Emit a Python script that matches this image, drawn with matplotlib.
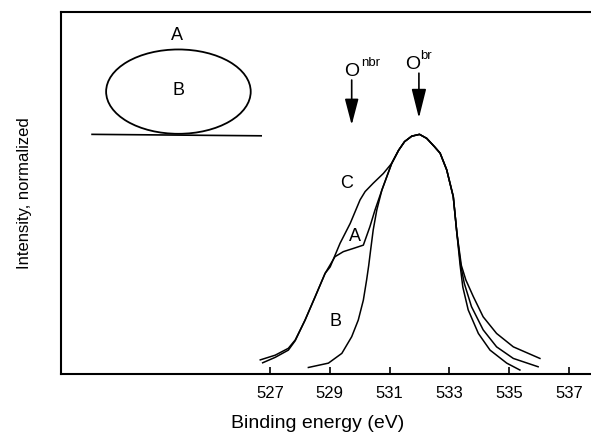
import matplotlib
matplotlib.use("Agg")
import matplotlib.pyplot as plt
from matplotlib.patches import Ellipse

plt.rcParams['font.family'] = ['Liberation Sans', 'DejaVu Sans']

# Binding energy (eV) and normalized intensity for the three spectra
energy_C = [526.67, 527.17, 527.61, 527.84, 528.17, 528.51, 528.84, 529.01, 529.34, 529.68,
            530.01, 530.18, 530.45, 530.79, 531.07, 531.30, 531.50, 531.74, 532.00, 532.24,
            532.50, 532.69, 532.91, 533.13, 533.25, 533.40, 533.55, 533.80, 534.13, 534.58,
            535.14, 536.03]
intensity_C = [0.039, 0.052, 0.071, 0.094, 0.149, 0.214, 0.278, 0.296, 0.361, 0.416,
               0.481, 0.504, 0.527, 0.554, 0.582, 0.618, 0.642, 0.657, 0.662, 0.651,
               0.628, 0.610, 0.564, 0.490, 0.390, 0.300, 0.260, 0.214, 0.158, 0.112,
               0.075, 0.043]

energy_A = [526.75, 527.17, 527.61, 527.84, 528.17, 528.51, 528.84, 529.17, 529.45, 529.79,
            530.12, 530.34, 530.51, 530.74, 531.07, 531.30, 531.50, 531.74, 532.00, 532.24,
            532.50, 532.69, 532.91, 533.13, 533.25, 533.38, 533.50, 533.74, 534.13, 534.58,
            535.14, 535.97]
intensity_A = [0.031, 0.046, 0.066, 0.092, 0.149, 0.214, 0.278, 0.324, 0.338, 0.347,
               0.356, 0.407, 0.453, 0.508, 0.582, 0.618, 0.642, 0.657, 0.662, 0.651,
               0.628, 0.610, 0.564, 0.490, 0.390, 0.300, 0.250, 0.186, 0.122, 0.075,
               0.043, 0.020]

energy_B = [528.28, 528.95, 529.40, 529.73, 529.95, 530.12, 530.23, 530.30, 530.36, 530.45,
            530.57, 530.74, 531.07, 531.30, 531.50, 531.74, 532.00, 532.24, 532.50, 532.69,
            532.91, 533.13, 533.25, 533.36, 533.45, 533.63, 533.97, 534.36, 534.92, 535.36]
intensity_B = [0.018, 0.030, 0.057, 0.103, 0.149, 0.204, 0.260, 0.300, 0.340, 0.398,
               0.453, 0.508, 0.582, 0.618, 0.642, 0.657, 0.662, 0.651, 0.628, 0.610,
               0.564, 0.490, 0.390, 0.300, 0.240, 0.177, 0.112, 0.066, 0.030, 0.011]

xticks = [527, 529, 531, 533, 535, 537]
peak_nbr = 529.73
peak_br = 531.98

fig = plt.figure(figsize=(5.91, 4.34), dpi=100)
ax = fig.add_axes([61/591, 60/434, 530/591, 362/434])

for e, i in [(energy_C, intensity_C), (energy_A, intensity_A), (energy_B, intensity_B)]:
    ax.plot(e, i, color='black', lw=1.1, solid_joinstyle='round')

ax.set_xlim(520.0, 537.74)
ax.set_ylim(0, 1)
ax.set_xticks(xticks)
ax.set_xticklabels([str(t) for t in xticks], fontsize=12)
ax.set_yticks([])
ax.tick_params(axis='x', direction='in', length=5, width=1.2, pad=9)
ax.spines['right'].set_visible(False)
for s in ['left', 'top', 'bottom']:
    ax.spines[s].set_linewidth(1.5)

# curve labels
ax.text(529.57, 0.527, 'C', fontsize=13, ha='center', va='center')
ax.text(529.85, 0.380, 'A', fontsize=13, ha='center', va='center')
ax.text(529.18, 0.144, 'B', fontsize=13, ha='center', va='center')

# peak arrows
ax.annotate('', xy=(peak_nbr, 0.688), xytext=(peak_nbr, 0.812),
            arrowprops=dict(arrowstyle='-|>,head_length=1.6,head_width=0.42',
                            mutation_scale=10, lw=1.2, color='black',
                            shrinkA=0, shrinkB=0))
ax.annotate('', xy=(peak_br, 0.707), xytext=(peak_br, 0.831),
            arrowprops=dict(arrowstyle='-|>,head_length=1.8,head_width=0.45',
                            mutation_scale=10, lw=1.2, color='black',
                            shrinkA=0, shrinkB=0))
ax.text(peak_nbr, 0.824, 'O', fontsize=14, ha='center', va='baseline')
ax.text(530.04, 0.852, 'nbr', fontsize=9.5, ha='left', va='baseline')
ax.text(531.78, 0.842, 'O', fontsize=14, ha='center', va='baseline')
ax.text(532.03, 0.869, 'br', fontsize=9.5, ha='left', va='baseline')

# inset drop sketch
ax.add_patch(Ellipse((523.93, 0.780), 4.84, 0.233, fill=False, lw=1.3, ec='black'))
ax.plot([521.04, 526.70], [0.662, 0.658], color='black', lw=1.2)
ax.text(523.88, 0.936, 'A', fontsize=13, ha='center', va='center')
ax.text(523.93, 0.783, 'B', fontsize=13, ha='center', va='center')

ax.set_ylabel('Intensity, normalized', fontsize=12, labelpad=21)
fig.text(318/591, 5.5/434, 'Binding energy (eV)', fontsize=14, ha='center', va='baseline')

fig.savefig('out.png', dpi=100)
